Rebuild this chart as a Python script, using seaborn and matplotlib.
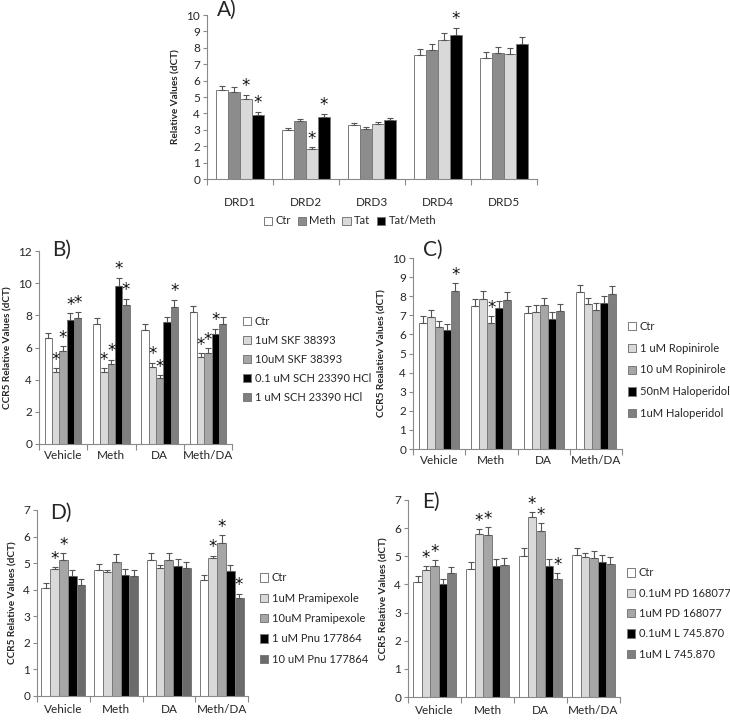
import pandas as pd
import matplotlib
matplotlib.use("Agg")
import matplotlib.pyplot as plt
import seaborn as sns
from matplotlib.patches import Patch
from matplotlib.container import BarContainer

# ---- data ----
genes = ["DRD1", "DRD2", "DRD3", "DRD4", "DRD5"]
groups = ["Vehicle", "Meth", "DA", "Meth/DA"]

a_treat = ["Ctr", "Meth", "Tat", "Tat/Meth"]
a_vals = [[5.45, 5.33, 4.90, 3.92],
          [3.00, 3.51, 1.84, 3.80],
          [3.27, 3.04, 3.37, 3.57],
          [7.56, 7.85, 8.46, 8.80],
          [7.36, 7.66, 7.60, 8.25]]
a_err = [[0.24, 0.28, 0.24, 0.18],
         [0.12, 0.14, 0.10, 0.18],
         [0.16, 0.12, 0.10, 0.14],
         [0.37, 0.38, 0.42, 0.43],
         [0.36, 0.37, 0.37, 0.39]]
a_star = [[0, 0, 1, 1], [0, 0, 1, 1], [0, 0, 0, 0], [0, 0, 0, 1], [0, 0, 0, 0]]

b_treat = ["Ctr", "1uM SKF 38393", "10uM SKF 38393",
           "0.1 uM SCH 23390 HCl", "1 uM SCH 23390 HCl"]
b_vals = [[6.61, 4.47, 5.78, 7.73, 7.82],
          [7.48, 4.49, 4.99, 9.85, 8.63],
          [7.11, 4.80, 4.12, 7.57, 8.54],
          [8.19, 5.41, 5.68, 6.82, 7.48]]
b_err = [[0.31, 0.23, 0.29, 0.42, 0.41],
         [0.38, 0.21, 0.25, 0.50, 0.41],
         [0.37, 0.25, 0.18, 0.35, 0.44],
         [0.40, 0.24, 0.29, 0.35, 0.40]]
b_star = [[0, 1, 1, 1, 1], [0, 1, 1, 1, 1], [0, 1, 1, 0, 1], [0, 1, 1, 1, 0]]

c_treat = ["Ctr", "1 uM Ropinirole", "10 uM Ropinirole",
           "50nM Haloperidol", "1uM Haloperidol"]
c_vals = [[6.62, 6.92, 6.38, 6.24, 8.28],
          [7.50, 7.86, 6.62, 7.38, 7.82],
          [7.13, 7.17, 7.55, 6.83, 7.20],
          [8.21, 7.58, 7.30, 7.62, 8.14]]
c_err = [[0.33, 0.35, 0.31, 0.31, 0.40],
         [0.35, 0.40, 0.33, 0.36, 0.40],
         [0.37, 0.36, 0.37, 0.35, 0.37],
         [0.39, 0.35, 0.36, 0.38, 0.41]]
c_star = [[0, 0, 0, 0, 1], [0, 0, 1, 0, 0], [0, 0, 0, 0, 0], [0, 0, 0, 0, 0]]

d_treat = ["Ctr", "1uM Pramipexole", "10uM Pramipexole",
           "1 uM Pnu 177864", "10 uM Pnu 177864"]
d_vals = [[4.05, 4.77, 5.11, 4.50, 4.17],
          [4.73, 4.65, 5.06, 4.54, 4.50],
          [5.11, 4.83, 5.13, 4.89, 4.81],
          [4.35, 5.18, 5.77, 4.71, 3.68]]
d_err = [[0.19, 0.07, 0.26, 0.23, 0.22],
         [0.25, 0.10, 0.27, 0.23, 0.23],
         [0.26, 0.09, 0.27, 0.26, 0.25],
         [0.21, 0.10, 0.29, 0.22, 0.17]]
d_star = [[0, 1, 1, 0, 0], [0, 0, 0, 0, 0], [0, 0, 0, 0, 0], [0, 1, 1, 0, 1]]

e_treat = ["Ctr", "0.1uM PD 168077", "1uM PD 168077",
           "0.1uM L 745.870", "1uM L 745.870"]
e_vals = [[4.07, 4.50, 4.65, 4.00, 4.39],
          [4.54, 5.78, 5.74, 4.65, 4.69],
          [5.02, 6.38, 5.90, 4.67, 4.18],
          [5.03, 4.96, 4.93, 4.79, 4.74]]
e_err = [[0.22, 0.15, 0.21, 0.20, 0.22],
         [0.25, 0.19, 0.29, 0.24, 0.25],
         [0.26, 0.19, 0.27, 0.24, 0.21],
         [0.26, 0.15, 0.25, 0.25, 0.24]]
e_star = [[0, 1, 1, 0, 0], [0, 1, 1, 0, 0], [0, 1, 1, 0, 1], [0, 0, 0, 0, 0]]

W, H = 730, 720
EDGE = "#7a7a7a"
AXC = "#8a8a8a"

sns.set_style("white")
plt.rcParams["font.family"] = ["Lato", "DejaVu Sans"]

fig = plt.figure(figsize=(W / 100, H / 100), dpi=100)


def box(l, r, t, b):
    return [l / W, 1 - b / H, (r - l) / W, (b - t) / H]


def panel(rect, cats, treats, vals, errs, stars, colors, ymax, ystep,
          ylabel, width, xpad):
    ax = fig.add_axes(rect)
    rows = []
    for i, c in enumerate(cats):
        for j, t in enumerate(treats):
            rows.append((c, t, vals[i][j]))
    df = pd.DataFrame(rows, columns=["group", "treat", "value"])
    sns.barplot(data=df, x="group", y="value", hue="treat", order=cats,
                hue_order=treats, palette=colors, errorbar=None,
                width=width, gap=0, edgecolor=EDGE, linewidth=0.7,
                legend=False, ax=ax)
    bars = [c for c in ax.containers if isinstance(c, BarContainer)]
    for j, cont in enumerate(bars):
        for i, bar in enumerate(cont.patches):
            x = bar.get_x() + bar.get_width() / 2
            h = bar.get_height()
            e = errs[i][j]
            ax.errorbar(x, h, yerr=[[0], [e]], fmt="none", ecolor="#555555",
                        elinewidth=0.8, capsize=2, capthick=0.8, zorder=3)
            if stars[i][j]:
                ax.annotate("*", (x, h + e), xytext=(0, 6),
                            textcoords="offset points", ha="center",
                            va="center", fontsize=12, family="DejaVu Sans",
                            color="#111111")
    n = len(cats)
    ax.set_xlim(-0.5, n - 0.5)
    ax.set_ylim(0, ymax)
    ax.set_yticks(range(0, ymax + 1, ystep))
    ax.set_xticks(range(n))
    ax.set_xticks([k - 0.5 for k in range(n + 1)], minor=True)
    ax.set_xticklabels(cats)
    ax.set_xlabel("")
    ax.set_ylabel(ylabel, fontsize=7.2, fontweight="bold", labelpad=4)
    ax.tick_params(axis="x", which="major", length=0, pad=xpad, labelsize=8.5)
    ax.tick_params(axis="x", which="minor", length=4, color=AXC, width=0.8,
                   bottom=True)
    ax.tick_params(axis="y", length=3, color=AXC, width=0.8, labelsize=8.5,
                   pad=2, left=True)
    for s in ["top", "right"]:
        ax.spines[s].set_visible(False)
    for s in ["left", "bottom"]:
        ax.spines[s].set_color(AXC)
        ax.spines[s].set_linewidth(0.8)
    return ax


def legend(treats, colors, x, y, spacing, ncol=1, loc="center left"):
    handles = [Patch(facecolor=c, edgecolor=EDGE, linewidth=0.7, label=t)
               for t, c in zip(treats, colors)]
    fig.legend(handles=handles, loc=loc, bbox_to_anchor=(x / W, 1 - y / H),
               ncol=ncol, frameon=False, fontsize=8, handlelength=0.75,
               handleheight=0.75, handletextpad=0.3, labelspacing=spacing,
               columnspacing=0.6, borderpad=0, borderaxespad=0)


# A) DRD expression
a_cols = ["#ffffff", "#8c8c8c", "#d9d9d9", "#000000"]
panel(box(207, 537, 15, 179), genes, a_treat, a_vals, a_err, a_star, a_cols,
      10, 1, "Relative Values (dCT)", 0.73, 13)
legend(a_treat, a_cols, 350, 221, 0.5, ncol=4, loc="center")

# B) D1 agonist / antagonist
b_cols = ["#ffffff", "#d9d9d9", "#a6a6a6", "#000000", "#7f7f7f"]
panel(box(39, 232, 251, 444), groups, b_treat, b_vals, b_err, b_star, b_cols,
      12, 2, "CCR5 Relative Values (dCT)", 0.76, 4)
legend(b_treat, b_cols, 243, 359.5, 0.72)

# C) D2 agonist / antagonist
c_cols = ["#ffffff", "#d9d9d9", "#a6a6a6", "#000000", "#7f7f7f"]
panel(box(413, 622, 258, 449), groups, c_treat, c_vals, c_err, c_star, c_cols,
      10, 1, "CCR5 Realatiev Values (dCT)", 0.77, 4)
legend(c_treat, c_cols, 628, 370, 0.98)

# D) D3 agonist / antagonist
d_cols = ["#ffffff", "#d9d9d9", "#a6a6a6", "#000000", "#6b6b6b"]
panel(box(37, 248, 510, 696), groups, d_treat, d_vals, d_err, d_star, d_cols,
      7, 1, "CCR5 Relative Values (dCT)", 0.83, 6)
legend(d_treat, d_cols, 260, 618.5, 0.84)

# E) D4 agonist / antagonist
e_cols = ["#ffffff", "#d9d9d9", "#a6a6a6", "#000000", "#7f7f7f"]
panel(box(408, 620, 500, 697), groups, e_treat, e_vals, e_err, e_star, e_cols,
      7, 1, "CCR5 Relative Values (dCT)", 0.80, 6)
legend(e_treat, e_cols, 627, 613.5, 0.84)

# panel letters
for lab, x, y in [("A)", 217, 10), ("B)", 52, 250), ("C)", 423, 250),
                  ("D)", 50, 513), ("E)", 422, 502)]:
    fig.text(x / W, 1 - y / H, lab, fontsize=15, ha="left", va="center")

fig.savefig("out.png", dpi=100)
